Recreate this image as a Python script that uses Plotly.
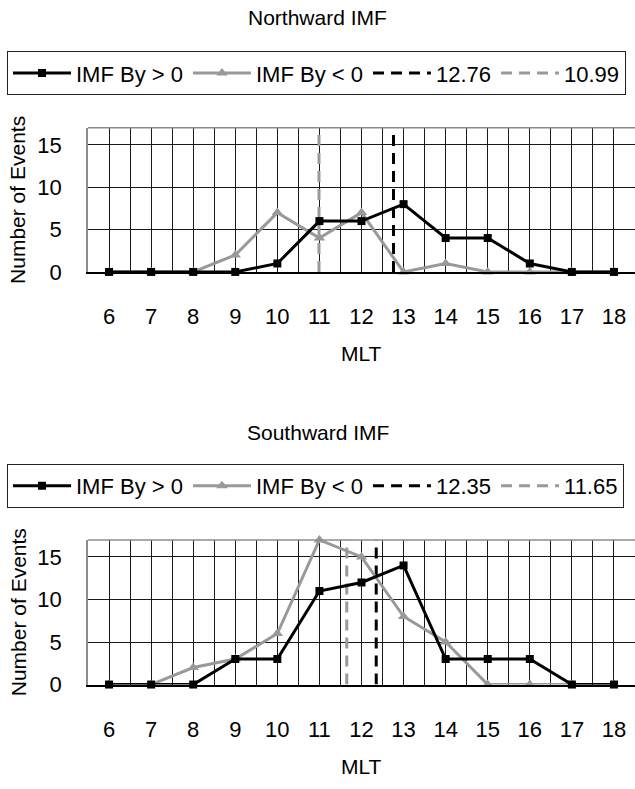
import plotly.graph_objects as go

# ---- data ----
mlt = [6, 7, 8, 9, 10, 11, 12, 13, 14, 15, 16, 17, 18]
north_by_pos = [0, 0, 0, 0, 1, 6, 6, 8, 4, 4, 1, 0, 0]
north_by_neg = [0, 0, 0, 2, 7, 4, 7, 0, 1, 0, 0, 0, 0]
north_mean_pos = 12.76
north_mean_neg = 10.99

south_by_pos = [0, 0, 0, 3, 3, 11, 12, 14, 3, 3, 3, 0, 0]
south_by_neg = [0, 0, 2, 3, 6, 17, 15, 8, 5, 0, 0, 0, 0]
south_mean_pos = 12.35
south_mean_neg = 11.65

panel_titles = ["Northward IMF", "Southward IMF"]
series_names = ["IMF By > 0", "IMF By < 0"]
y_ticks = [0, 5, 10, 15]
y_max = 17
x_title = "MLT"
y_title = "Number of Events"

# ---- style ----
W, H = 635, 789
FONT = "Liberation Sans, Arial, sans-serif"
BLACK = "#000000"
GRAY = "#999999"
BORDER = "#8c8c8c"
GRID = "#1a1a1a"


def py(px):
    return 1 - px / H


panels = [
    dict(pos=north_by_pos, neg=north_by_neg, mpos=north_mean_pos, mneg=north_mean_neg,
         top=130, bottom=276.5, legend_y=74.5, title_y=18, xtitle_y=359, legend="legend"),
    dict(pos=south_by_pos, neg=south_by_neg, mpos=south_mean_pos, mneg=south_mean_neg,
         top=549, bottom=696, legend_y=494, title_y=440, xtitle_y=779, legend="legend2"),
]

fig = go.Figure()
x_dom = [88 / W, 1.0]
annotations = []
shapes = []

for i, p in enumerate(panels, start=1):
    xa = "x" if i == 1 else f"x{i}"
    ya = "y" if i == 1 else f"y{i}"
    fig.add_trace(go.Scatter(
        x=[p["mpos"], p["mpos"]], y=[0, y_max], name=f"{p['mpos']:.2f}", mode="lines",
        line=dict(color=BLACK, width=3, dash="11px,7px"), legendrank=3,
        xaxis=xa, yaxis=ya, legend=p["legend"]))
    fig.add_trace(go.Scatter(
        x=[p["mneg"], p["mneg"]], y=[0, y_max], name=f"{p['mneg']:.2f}", mode="lines",
        line=dict(color=GRAY, width=3, dash="11px,7px"), legendrank=4,
        xaxis=xa, yaxis=ya, legend=p["legend"]))
    fig.add_trace(go.Scatter(
        x=mlt, y=p["neg"], name=series_names[1], mode="lines+markers",
        line=dict(color=GRAY, width=3), marker=dict(symbol="triangle-up", size=10, color=GRAY),
        cliponaxis=False, legendrank=2,
        xaxis=xa, yaxis=ya, legend=p["legend"]))
    fig.add_trace(go.Scatter(
        x=mlt, y=p["pos"], name=series_names[0], mode="lines+markers",
        line=dict(color=BLACK, width=3), marker=dict(symbol="square", size=8, color=BLACK),
        cliponaxis=False, legendrank=1,
        xaxis=xa, yaxis=ya, legend=p["legend"]))

    y_dom = [py(p["bottom"]), py(p["top"])]
    xkey = "xaxis" if i == 1 else f"xaxis{i}"
    ykey = "yaxis" if i == 1 else f"yaxis{i}"
    fig.update_layout(**{
        xkey: dict(
            domain=x_dom, anchor=ya, range=[mlt[0] - 0.5, mlt[-1] + 0.5],
            tickvals=mlt, ticktext=[str(m) for m in mlt],
            showgrid=True, gridcolor=GRID, gridwidth=1,
            minor=dict(tickvals=[m + 0.5 for m in mlt[:-1]], showgrid=True,
                       gridcolor=GRID, gridwidth=1),
            showline=True, linecolor=BLACK, linewidth=1.5,
            ticks="", zeroline=False, ticklabelstandoff=24,
            tickfont=dict(family=FONT, size=22, color=BLACK),
        ),
        ykey: dict(
            domain=y_dom, anchor=xa, range=[0, y_max], tickvals=y_ticks,
            showgrid=True, gridcolor=GRID, gridwidth=1,
            showline=True, linecolor=BORDER, linewidth=1.5,
            ticks="", zeroline=False, ticklabelstandoff=20,
            tickfont=dict(family=FONT, size=22, color=BLACK),
        ),
        p["legend"]: dict(
            orientation="h", x=7 / W, xanchor="left", y=py(p["legend_y"]), yanchor="middle",
            bordercolor="#222222", borderwidth=1, bgcolor="white",
            font=dict(family=FONT, size=22, color=BLACK), itemwidth=58,
            tracegroupgap=0, traceorder="normal",
        ),
    })
    # top border of plot area
    shapes.append(dict(type="line", xref=f"{xa} domain", yref=f"{ya} domain",
                       x0=0, x1=1, y0=1, y1=1, line=dict(color=BORDER, width=1.5)))
    annotations.append(dict(text=panel_titles[i - 1], x=0.5, y=py(p["title_y"]),
                            xref="paper", yref="paper", showarrow=False,
                            xanchor="center", yanchor="middle",
                            font=dict(family=FONT, size=21, color=BLACK)))
    annotations.append(dict(text=x_title, x=(x_dom[0] + x_dom[1]) / 2, y=py(p["xtitle_y"]),
                            xref="paper", yref="paper", showarrow=False,
                            xanchor="center", yanchor="middle",
                            font=dict(family=FONT, size=21, color=BLACK)))
    annotations.append(dict(text=y_title, x=18 / W, y=py((p["top"] + p["bottom"]) / 2),
                            xref="paper", yref="paper", showarrow=False, textangle=-90,
                            xanchor="center", yanchor="middle",
                            font=dict(family=FONT, size=21, color=BLACK)))

fig.update_layout(
    width=W, height=H, margin=dict(l=0, r=0, t=0, b=0),
    paper_bgcolor="white", plot_bgcolor="white",
    annotations=annotations, shapes=shapes, showlegend=True,
    font=dict(family=FONT, color=BLACK),
)

fig.write_html("out.html")
